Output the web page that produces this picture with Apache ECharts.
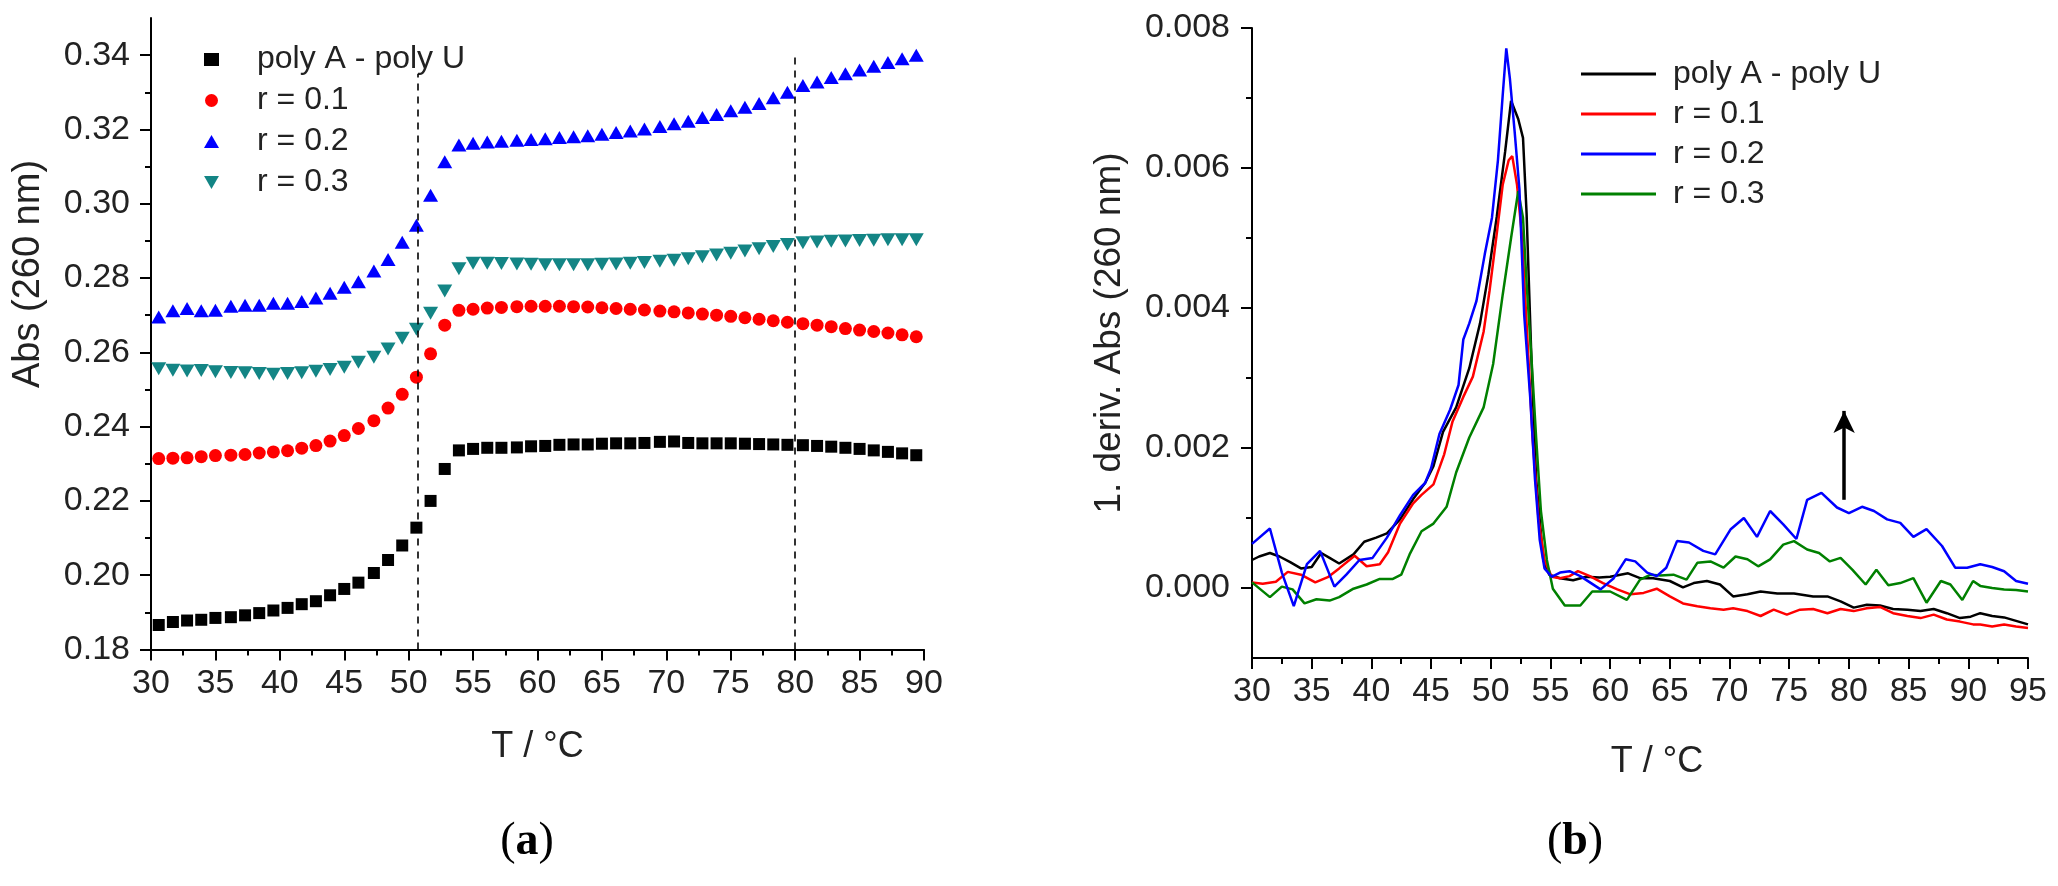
<!DOCTYPE html>
<html>
<head>
<meta charset="utf-8">
<script src="https://cdn.jsdelivr.net/npm/echarts@6/dist/echarts.min.js"></script>
<style>
html,body{margin:0;padding:0;background:#fff;}
#chart{width:2058px;height:886px;}
</style>
</head>
<body>
<div id="chart"></div>
<script>
// ---------- (a) absorbance vs temperature ----------
const tempA = [30.6,31.7,32.8,33.9,35.0,36.2,37.3,38.4,39.5,40.6,
  41.7,42.8,43.9,45.0,46.1,47.3,48.4,49.5,50.6,51.7,
  52.8,53.9,55.0,56.1,57.2,58.4,59.5,60.6,61.7,62.8,
  63.9,65.0,66.1,67.2,68.3,69.5,70.6,71.7,72.8,73.9,
  75.0,76.1,77.2,78.3,79.4,80.6,81.7,82.8,83.9,85.0,
  86.1,87.2,88.3,89.4];
const absPolyAU = [0.1866,0.1874,0.1878,0.1880,0.1885,0.1887,0.1892,0.1898,0.1905,0.1912,
  0.1922,0.1930,0.1946,0.1963,0.1980,0.2006,0.2041,0.2080,0.2128,0.2200,
  0.2286,0.2336,0.2340,0.2343,0.2343,0.2344,0.2347,0.2348,0.2351,0.2352,
  0.2352,0.2354,0.2355,0.2355,0.2356,0.2359,0.2360,0.2356,0.2355,0.2355,
  0.2355,0.2354,0.2353,0.2352,0.2351,0.2350,0.2348,0.2346,0.2343,0.2340,
  0.2336,0.2332,0.2328,0.2323];
const absR01 = [0.2314,0.2315,0.2316,0.2319,0.2322,0.2323,0.2325,0.2329,0.2332,0.2335,
  0.2342,0.2349,0.2361,0.2376,0.2395,0.2416,0.2450,0.2487,0.2533,0.2596,
  0.2673,0.2713,0.2716,0.2719,0.2721,0.2723,0.2724,0.2724,0.2724,0.2723,
  0.2722,0.2720,0.2718,0.2716,0.2714,0.2711,0.2709,0.2706,0.2703,0.2700,
  0.2697,0.2693,0.2689,0.2685,0.2681,0.2677,0.2673,0.2669,0.2664,0.2660,
  0.2656,0.2652,0.2647,0.2642];
const absR02 = [0.2695,0.2712,0.2718,0.2712,0.2713,0.2724,0.2727,0.2727,0.2732,0.2732,
  0.2737,0.2746,0.2759,0.2775,0.2790,0.2819,0.2850,0.2896,0.2942,0.3023,
  0.3113,0.3158,0.3163,0.3166,0.3168,0.3171,0.3173,0.3175,0.3178,0.3180,
  0.3183,0.3187,0.3192,0.3196,0.3201,0.3208,0.3215,0.3222,0.3232,0.3240,
  0.3250,0.3260,0.3270,0.3285,0.3300,0.3318,0.3328,0.3340,0.3350,0.3360,
  0.3370,0.3380,0.3390,0.3400];
const absR03 = [0.2556,0.2552,0.2550,0.2551,0.2548,0.2546,0.2545,0.2543,0.2541,0.2543,
  0.2545,0.2549,0.2554,0.2560,0.2573,0.2587,0.2609,0.2638,0.2662,0.2705,
  0.2765,0.2825,0.2840,0.2840,0.2839,0.2838,0.2837,0.2836,0.2836,0.2836,
  0.2836,0.2837,0.2838,0.2840,0.2842,0.2845,0.2848,0.2852,0.2857,0.2862,
  0.2867,0.2873,0.2879,0.2885,0.2890,0.2895,0.2897,0.2899,0.2900,0.2901,
  0.2902,0.2903,0.2903,0.2903];
const yTicksA = [0.18, 0.20, 0.22, 0.24, 0.26, 0.28, 0.30, 0.32, 0.34];
const meltTemps = [50.7, 80.0];
const meltTop = [0.335, 0.340];

// ---------- (b) first derivative ----------
const dTempAU = [30.0,30.6,31.5,32.3,33.2,34.1,35.0,35.8,36.5,37.3,
  38.5,39.4,40.4,41.3,42.4,43.5,44.5,45.2,46.0,47.1,
  48.2,49.1,49.8,50.5,51.2,51.7,52.3,52.7,53.0,53.4,
  53.8,54.4,54.9,55.8,56.9,58.0,59.1,60.0,61.5,62.5,
  63.6,65.0,66.1,67.0,68.1,69.2,70.3,71.5,72.6,74.0,
  75.4,77.0,78.2,79.3,80.4,81.5,82.6,83.7,84.9,86.0,
  87.1,88.2,89.3,90.2,91.0,92.0,93.0,94.0,95.0];
const dAbsAU = [0.00040,0.00045,0.00050,0.00045,0.00037,0.00028,0.00030,0.00050,0.00043,0.00035,
  0.00048,0.00066,0.00072,0.00078,0.00098,0.00127,0.00150,0.00174,0.00223,0.00258,
  0.00314,0.00378,0.00448,0.00530,0.00623,0.00696,0.00670,0.00643,0.00535,0.00330,
  0.00156,0.00040,0.00019,0.00014,0.00011,0.00016,0.00015,0.00016,0.00021,0.00014,
  0.00014,0.00010,0.00001,0.00007,0.00010,0.00005,-0.00012,-0.00009,-0.00005,-0.00008,
  -0.00008,-0.00012,-0.00012,-0.00019,-0.00028,-0.00024,-0.00025,-0.00030,-0.00031,-0.00033,
  -0.00030,-0.00036,-0.00043,-0.00041,-0.00036,-0.00040,-0.00042,-0.00047,-0.00052];
const dTempR01 = [30.0,30.9,32.0,33.0,34.1,35.3,36.4,37.3,38.6,39.6,
  40.7,41.4,42.4,43.5,44.2,45.2,46.1,46.8,47.7,48.5,
  49.4,49.9,50.5,51.0,51.5,51.8,52.2,52.6,53.0,53.5,
  54.0,54.5,55.1,55.8,56.6,57.3,58.3,59.4,60.6,61.7,
  62.8,63.9,65.0,66.1,67.3,68.4,69.5,70.3,71.5,72.6,
  73.7,74.8,75.9,77.0,78.2,79.3,80.4,81.5,82.6,83.7,
  84.9,86.0,87.1,88.2,89.3,90.4,91.0,92.0,93.0,94.0,95.0];
const dAbsR01 = [0.00008,0.00006,0.00009,0.00023,0.00019,0.00008,0.00016,0.00028,0.00046,0.00031,
  0.00034,0.00051,0.00092,0.00121,0.00133,0.00148,0.00191,0.00238,0.00273,0.00302,
  0.00366,0.00425,0.00506,0.00576,0.00611,0.00617,0.00576,0.00506,0.00378,0.00215,
  0.00098,0.00040,0.00016,0.00014,0.00017,0.00024,0.00017,0.00007,-0.00002,-0.00009,
  -0.00007,-0.00001,-0.00012,-0.00022,-0.00026,-0.00029,-0.00031,-0.00029,-0.00033,-0.00040,
  -0.00031,-0.00038,-0.00031,-0.00030,-0.00036,-0.00030,-0.00033,-0.00029,-0.00027,-0.00036,
  -0.00040,-0.00043,-0.00038,-0.00045,-0.00048,-0.00052,-0.00052,-0.00055,-0.00052,-0.00055,-0.00057];
const dTempR02 = [30.0,31.5,32.5,33.5,34.6,35.7,36.9,37.9,39.0,40.1,
  41.3,42.4,43.5,44.5,45.0,45.7,46.6,47.3,47.7,48.2,
  48.8,49.5,50.1,50.6,51.0,51.3,51.6,52.0,52.4,52.8,
  53.3,53.7,54.1,54.5,55.1,55.8,56.6,57.5,59.2,60.3,
  61.3,62.1,63.1,63.9,64.7,65.6,66.6,67.8,68.8,70.1,
  71.2,72.3,73.4,74.5,75.6,76.5,77.7,79.0,80.0,81.1,
  82.1,83.2,84.3,85.4,86.5,87.8,88.9,89.9,91.0,92.0,
  93.0,94.0,95.0];
const dAbsR02 = [0.00063,0.00085,0.00022,-0.00026,0.00034,0.00053,0.00002,0.00019,0.00040,0.00043,
  0.00072,0.00104,0.00133,0.00150,0.00171,0.00220,0.00255,0.00290,0.00355,0.00378,
  0.00410,0.00477,0.00529,0.00611,0.00704,0.00771,0.00728,0.00652,0.00570,0.00390,
  0.00273,0.00156,0.00069,0.00028,0.00016,0.00022,0.00024,0.00017,-0.00002,0.00014,
  0.00041,0.00038,0.00022,0.00017,0.00029,0.00067,0.00065,0.00053,0.00048,0.00084,
  0.00100,0.00073,0.00110,0.00091,0.00070,0.00126,0.00136,0.00115,0.00107,0.00116,
  0.00110,0.00098,0.00093,0.00073,0.00084,0.00060,0.00029,0.00029,0.00034,0.00030,
  0.00024,0.00010,0.00006];
const dTempR03 = [30.0,31.5,32.5,33.4,34.4,35.4,36.5,37.3,38.5,39.6,
  40.7,41.8,42.5,43.2,44.2,45.2,46.3,47.1,48.2,49.4,
  50.2,51.0,51.7,52.3,52.7,53.0,53.4,53.8,54.2,54.7,
  55.2,56.2,57.5,58.5,60.0,61.4,62.5,63.4,64.2,65.3,
  66.4,67.3,68.4,69.5,70.5,71.5,72.4,73.4,74.5,75.4,
  76.5,77.5,78.4,79.3,80.3,81.4,82.3,83.3,84.3,85.4,
  86.5,87.7,88.5,89.5,90.4,91.0,92.0,93.0,94.0,95.0];
const dAbsR03 = [0.00008,-0.00013,0.00002,-0.00002,-0.00022,-0.00016,-0.00018,-0.00013,-0.00001,0.00005,
  0.00013,0.00013,0.00019,0.00048,0.00081,0.00092,0.00116,0.00165,0.00215,0.00258,
  0.00320,0.00419,0.00500,0.00567,0.00529,0.00436,0.00331,0.00215,0.00110,0.00040,
  -0.00001,-0.00025,-0.00025,-0.00005,-0.00005,-0.00017,0.00012,0.00019,0.00018,0.00019,
  0.00012,0.00036,0.00038,0.00029,0.00045,0.00041,0.00031,0.00041,0.00062,0.00067,
  0.00055,0.00050,0.00038,0.00043,0.00026,0.00005,0.00026,0.00004,0.00007,0.00014,
  -0.00021,0.00010,0.00005,-0.00017,0.00010,0.00003,0.00000,-0.00002,-0.00003,-0.00005];
const arrowT = 79.6;
const arrowFrom = 0.00126;
const arrowTo = 0.00253;

const seriesNames = ['poly A - poly U', 'r = 0.1', 'r = 0.2', 'r = 0.3'];
const dPrefix = 'deriv ';
const yTicksB = [0, 0.002, 0.004, 0.006, 0.008];
const yMinorB = [0.001, 0.003, 0.005, 0.007];

// ---------- build ----------
const FONT = '"Liberation Sans", Arial, Helvetica, sans-serif';
const SERIF = '"Liberation Serif", "DejaVu Serif", serif';
const TXT = '#222';
const zip = (xs, ys) => xs.map((x, i) => [x, ys[i]]);

function baseAxis(extra) {
  return Object.assign({
    type: 'value',
    axisLine: { show: true, onZero: false, lineStyle: { color: '#000', width: 2 } },
    axisTick: { show: true, inside: false, length: 11, lineStyle: { color: '#000', width: 2 } },
    minorTick: { show: true, splitNumber: 2, length: 6, lineStyle: { color: '#000', width: 2 } },
    splitLine: { show: false },
    minorSplitLine: { show: false },
    axisLabel: { fontFamily: FONT, fontSize: 34, color: TXT },
    nameTextStyle: { fontFamily: FONT, fontSize: 36, color: TXT }
  }, extra);
}

const chart = echarts.init(document.getElementById('chart'), null, { renderer: 'canvas' });

const scatterStyle = [
  { symbol: 'rect', symbolSize: 12, color: '#000000', rotate: 0, icon: 'rect' },
  { symbol: 'circle', symbolSize: 13, color: '#ff0000', rotate: 0, icon: 'circle' },
  { symbol: 'triangle', symbolSize: [15, 13], color: '#0000ff', rotate: 0, icon: 'triangle' },
  { symbol: 'triangle', symbolSize: [15, 13], color: '#138585', rotate: 180, icon: 'path://M0,0L16,0L8,14Z' }
];
const lineColors = ['#000000', '#ff0000', '#0000ff', '#008000'];
const absSets = [absPolyAU, absR01, absR02, absR03];
const dSets = [[dTempAU, dAbsAU], [dTempR01, dAbsR01], [dTempR02, dAbsR02], [dTempR03, dAbsR03]];

const series = [];
absSets.forEach((vals, i) => {
  const st = scatterStyle[i];
  const s = {
    type: 'scatter', name: seriesNames[i], xAxisIndex: 0, yAxisIndex: 0,
    data: zip(tempA, vals),
    symbol: st.symbol, symbolSize: st.symbolSize, symbolRotate: st.rotate,
    itemStyle: { color: st.color, opacity: 1 },
    emphasis: { disabled: true }, z: 3
  };
  if (i === 0) {
    s.markLine = {
      silent: true, symbol: ['none', 'none'], animation: false,
      label: { show: false },
      lineStyle: { color: '#000', width: 1.6, type: [7, 6] },
      emphasis: { disabled: true },
      data: meltTemps.map((t, k) => [{ coord: [t, 0.18] }, { coord: [t, meltTop[k]] }])
    };
  }
  series.push(s);
});
dSets.forEach((d, i) => {
  const s = {
    type: 'line', name: dPrefix + seriesNames[i], xAxisIndex: 1, yAxisIndex: 1,
    data: zip(d[0], d[1]),
    symbol: 'none', showSymbol: false,
    lineStyle: { color: lineColors[i], width: 2.5 },
    itemStyle: { color: lineColors[i] },
    emphasis: { disabled: true }, z: 3 + (i === 2 ? 1 : 0)
  };
  if (i === 2) {
    s.markLine = {
      silent: true, symbol: ['none', 'arrow'], symbolSize: [16, 22], animation: false,
      label: { show: false },
      lineStyle: { color: '#000', width: 3.5, type: 'solid' },
      itemStyle: { color: '#000' },
      emphasis: { disabled: true },
      data: [[{ coord: [arrowT, arrowFrom] }, { coord: [arrowT, arrowTo] }]]
    };
  }
  series.push(s);
});

const option = {
  animation: false,
  backgroundColor: '#ffffff',
  textStyle: { fontFamily: FONT },
  grid: [
    { left: 151, top: 18, width: 773, height: 631.5, containLabel: false },
    { left: 1252, top: 28, width: 776, height: 630, containLabel: false }
  ],
  xAxis: [
    baseAxis({ gridIndex: 0, min: 30, max: 90, interval: 5,
      axisLabel: { fontFamily: FONT, fontSize: 34, color: TXT, margin: 17 },
      name: 'T / °C', nameLocation: 'middle', nameGap: 80 }),
    baseAxis({ gridIndex: 1, min: 30, max: 95, interval: 5,
      axisLabel: { fontFamily: FONT, fontSize: 34, color: TXT, margin: 17 },
      name: 'T / °C', nameLocation: 'middle', nameGap: 86,
      nameTextStyle: { fontFamily: FONT, fontSize: 36, color: TXT, padding: [0, 0, 0, 34] } })
  ],
  yAxis: [
    baseAxis({ gridIndex: 0, min: 0.18, max: 0.35, interval: 0.02, position: 'left',
      axisTick: { show: true, inside: false, length: 11, customValues: yTicksA, lineStyle: { color: '#000', width: 2 } },
      axisLabel: { fontFamily: FONT, fontSize: 34, color: TXT, margin: 21,
        customValues: yTicksA, formatter: v => v.toFixed(2) } }),
    baseAxis({ gridIndex: 1, min: -0.001, max: 0.008, interval: 0.001, position: 'left',
      minorTick: { show: false },
      axisTick: { show: true, inside: false, length: 11, customValues: yTicksB, lineStyle: { color: '#000', width: 2 } },
      axisLabel: { fontFamily: FONT, fontSize: 34, color: TXT, margin: 22, customValues: yTicksB, formatter: v => v.toFixed(3) } }),
    baseAxis({ gridIndex: 1, min: -0.001, max: 0.008, interval: 0.001, position: 'left', offset: 0,
      axisLine: { show: false },
      minorTick: { show: false },
      axisTick: { show: true, inside: false, length: 6, customValues: yMinorB, lineStyle: { color: '#000', width: 2 } },
      axisLabel: { show: false } })
  ],
  legend: [
    { orient: 'vertical', left: 199, top: 34, itemWidth: 15, itemHeight: 13, itemGap: 0,
      data: seriesNames.map((n, i) => ({ name: n, icon: scatterStyle[i].icon })),
      selectedMode: false,
      textStyle: { fontFamily: FONT, fontSize: 32, color: TXT, lineHeight: 41, padding: [0, 0, 0, 33] } },
    { orient: 'vertical', left: 1576, top: 49, itemWidth: 75, itemHeight: 3, itemGap: 0,
      data: seriesNames.map(n => ({ name: dPrefix + n, icon: 'rect' })),
      selectedMode: false,
      formatter: n => n.replace(dPrefix, ''),
      textStyle: { fontFamily: FONT, fontSize: 32, color: TXT, lineHeight: 40, padding: [0, 0, 0, 12] } }
  ],
  graphic: [
    { type: 'text', x: 29, y: 274, rotation: Math.PI / 2, silent: true,
      style: { text: 'Abs (260 nm)', align: 'center', verticalAlign: 'middle',
        font: '38px "Liberation Sans", Arial, sans-serif', fill: TXT } },
    { type: 'text', x: 1110, y: 333, rotation: Math.PI / 2, silent: true,
      style: { text: '1. deriv. Abs (260 nm)', align: 'center', verticalAlign: 'middle',
        font: '37px "Liberation Sans", Arial, sans-serif', fill: TXT } },
    { type: 'text', x: 527, y: 842, silent: true,
      style: { text: '{p|(}{b|a}{p|)}', align: 'center', verticalAlign: 'middle',
        rich: { p: { fontFamily: SERIF, fontSize: 46, fill: '#000', color: '#000' },
                b: { fontFamily: SERIF, fontSize: 46, fontWeight: 'bold', fill: '#000', color: '#000' } } } },
    { type: 'text', x: 1575, y: 842, silent: true,
      style: { text: '{p|(}{b|b}{p|)}', align: 'center', verticalAlign: 'middle',
        rich: { p: { fontFamily: SERIF, fontSize: 46, fill: '#000', color: '#000' },
                b: { fontFamily: SERIF, fontSize: 46, fontWeight: 'bold', fill: '#000', color: '#000' } } } }
  ],
  series: series
};

chart.setOption(option);
</script>
</body>
</html>
